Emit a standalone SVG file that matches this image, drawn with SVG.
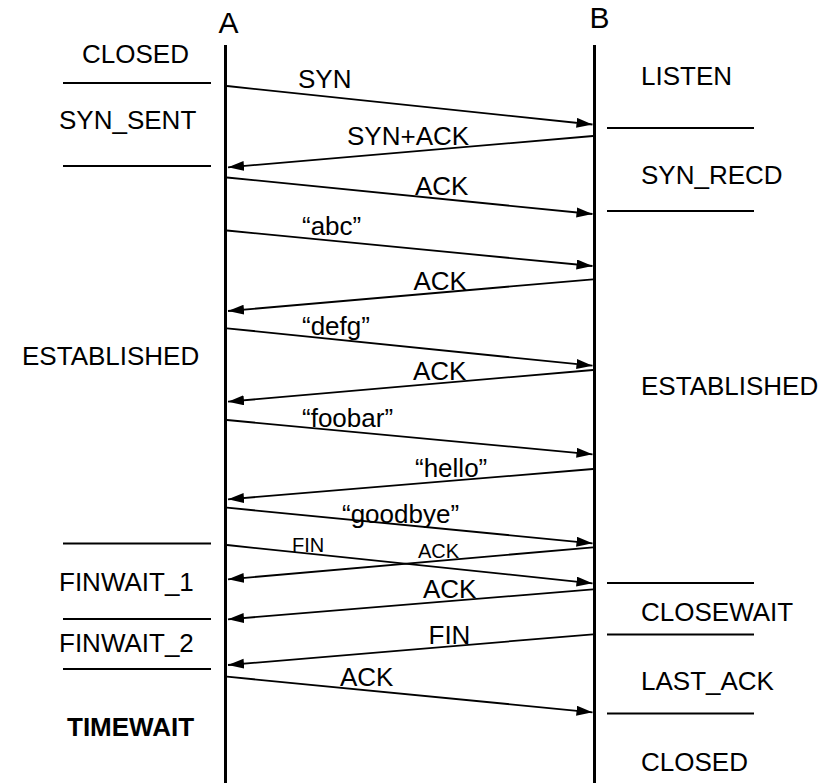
<svg xmlns="http://www.w3.org/2000/svg" width="825" height="783" viewBox="0 0 825 783">
<style>
text{font-family:"Liberation Sans",Arial,sans-serif;fill:#000}
.h{font-size:30px}
.s{font-size:26px}
.m{font-size:26px}
.sm{font-size:20px}
.b{font-weight:bold}
.life{stroke:#000;stroke-width:3}
.sep{stroke:#000;stroke-width:2}
.msg{stroke:#000;stroke-width:1.8;fill:none;marker-end:url(#ah)}
</style>
<defs>
<marker id="ah" markerUnits="userSpaceOnUse" markerWidth="17" markerHeight="11" refX="16" refY="5" orient="auto">
<path d="M0,0 L16,5 L0,10 z" fill="#000"/>
</marker>
</defs>
<rect width="825" height="783" fill="#fff"/>
<g id="lifelineA">
<text class="h" x="228.5" y="33" text-anchor="middle">A</text>
<line class="life" x1="225.5" y1="45" x2="225.5" y2="783"/>
</g>
<g id="lifelineB">
<text class="h" x="599.5" y="28" text-anchor="middle">B</text>
<line class="life" x1="594.5" y1="45" x2="594.5" y2="783"/>
</g>
<g id="statesA">
<text class="s" x="82" y="63">CLOSED</text>
<line class="sep" x1="63" y1="83" x2="211" y2="83"/>
<text class="s" x="59" y="129">SYN_SENT</text>
<line class="sep" x1="63" y1="166" x2="211" y2="166"/>
<text class="s" x="22" y="365">ESTABLISHED</text>
<line class="sep" x1="63" y1="543.5" x2="211" y2="543.5"/>
<text class="s" x="59" y="591">FINWAIT_1</text>
<line class="sep" x1="63" y1="619" x2="211" y2="619"/>
<text class="s" x="59" y="652">FINWAIT_2</text>
<line class="sep" x1="63" y1="669" x2="211" y2="669"/>
<text class="s b" x="67" y="736">TIMEWAIT</text>
</g>
<g id="statesB">
<text class="s" x="641" y="85">LISTEN</text>
<line class="sep" x1="607" y1="128" x2="754" y2="128"/>
<text class="s" x="641" y="184">SYN_RECD</text>
<line class="sep" x1="607" y1="211" x2="754" y2="211"/>
<text class="s" x="641" y="395">ESTABLISHED</text>
<line class="sep" x1="607" y1="583" x2="754" y2="583"/>
<text class="s" x="641" y="621">CLOSEWAIT</text>
<line class="sep" x1="607" y1="634.5" x2="754" y2="634.5"/>
<text class="s" x="641" y="690">LAST_ACK</text>
<line class="sep" x1="607" y1="713.5" x2="754" y2="713.5"/>
<text class="s" x="641" y="771">CLOSED</text>
</g>
<g id="connectors">
<line class="msg" x1="227" y1="86" x2="592.5" y2="124.5"/>
<line class="msg" x1="593" y1="136" x2="228" y2="167.3"/>
<line class="msg" x1="227" y1="177.5" x2="592.5" y2="214"/>
<line class="msg" x1="227" y1="230.5" x2="592.5" y2="266"/>
<line class="msg" x1="593" y1="279.3" x2="228" y2="311"/>
<line class="msg" x1="227" y1="328.3" x2="592.5" y2="365.7"/>
<line class="msg" x1="593" y1="370" x2="228" y2="401.7"/>
<line class="msg" x1="227" y1="420" x2="592.5" y2="454.3"/>
<line class="msg" x1="593" y1="469" x2="228" y2="499.3"/>
<line class="msg" x1="227" y1="507.7" x2="592.5" y2="543.3"/>
<line class="msg" x1="593" y1="547.3" x2="228" y2="579.3"/>
<line class="msg" x1="227" y1="545" x2="592.5" y2="583.3"/>
<line class="msg" x1="593" y1="589.3" x2="228" y2="619.3"/>
<line class="msg" x1="593" y1="634.3" x2="228" y2="665"/>
<line class="msg" x1="227" y1="676.7" x2="592.5" y2="712.3"/>
</g>
<g id="labels">
<text class="m" x="298" y="88">SYN</text>
<text class="m" x="347" y="145">SYN+ACK</text>
<text class="m" x="415" y="195">ACK</text>
<text class="m" x="302" y="235">“abc”</text>
<text class="m" x="413.5" y="290">ACK</text>
<text class="m" x="302" y="335">“defg”</text>
<text class="m" x="413" y="380">ACK</text>
<text class="m" x="302" y="426.5">“foobar”</text>
<text class="m" x="415" y="476.5">“hello”</text>
<text class="m" x="342" y="523">“goodbye”</text>
<text class="sm" x="292" y="551.5">FIN</text>
<text class="sm" x="418" y="558.3">ACK</text>
<text class="m" x="423" y="598">ACK</text>
<text class="m" x="428.5" y="644">FIN</text>
<text class="m" x="340" y="685.5">ACK</text>
</g>
</svg>
